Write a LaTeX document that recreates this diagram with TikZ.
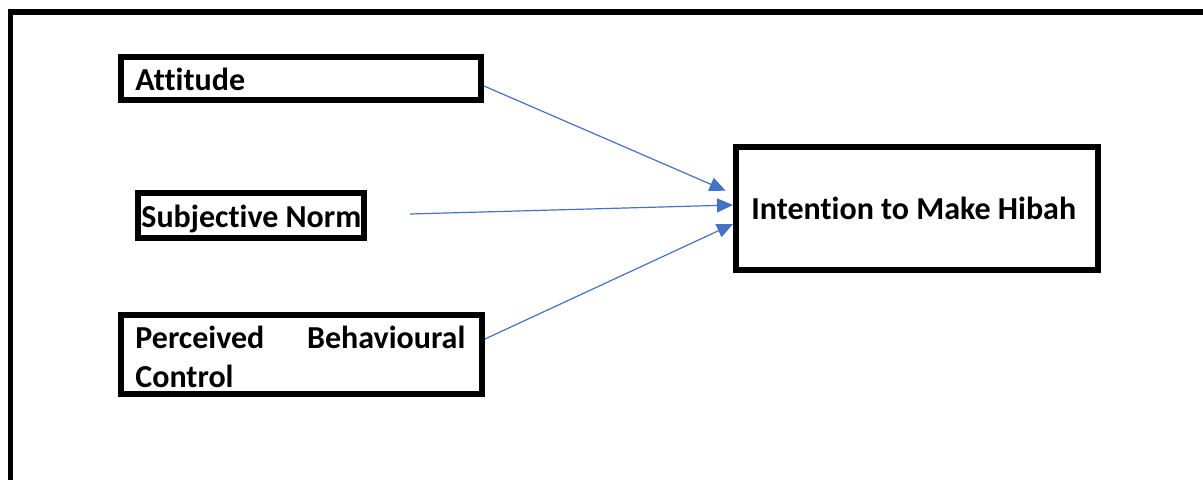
\documentclass[tikz,border=0pt]{standalone}
\usepackage{fontspec}
\setmainfont{Carlito}[Ligatures=NoCommon]
\usetikzlibrary{arrows.meta}
\definecolor{arrowblue}{HTML}{4472C4}
\begin{document}
\begin{tikzpicture}[x=0.5pt,y=-0.5pt,
  box/.style={draw=black,line width=3pt,rectangle,inner sep=0pt,fill=white},
  lbl/.style={inner sep=0pt,anchor=base west,font=\bfseries\fontsize{16}{19.5}\selectfont},
  conn/.style={draw=arrowblue,line width=0.6pt,-{Triangle[length=8pt,width=7pt]}}]
\useasboundingbox (0,0) rectangle (1203,480);
% outer frame (top and left edges)
\draw[line width=2.8pt,line join=miter] (10.5,495) -- (10.5,12) -- (1220,12);
% boxes
\node[box,minimum width=180pt,minimum height=21.5pt] (att) at (301,78.5) {};
\node[box,minimum width=113pt,minimum height=22.5pt] (sn) at (251,215.5) {};
\node[box,minimum width=180.5pt,minimum height=39.5pt] (pbc) at (301.5,354.5) {};
\node[box,minimum width=181pt,minimum height=61.5pt] (int) at (917,208.5) {};
% texts
\node[lbl] (attT) at (135,91) {Attitude};
\node[lbl] (snT) at (141,228) {Subjective Norm};
\node[lbl,text width=165pt,align=left,anchor=north west] (pbcT) at (135,325.5) {Perceived\hfill Behavioural\\Control};
\node[lbl] (intT) at (751,220) {Intention to Make Hibah};
% connectors
\coordinate (snStart) at (410,214);
\draw[conn] ([yshift=-3.75pt]att.east) -- ([xshift=-3.7pt,yshift=8.9pt]int.west);
\draw[conn] (snStart) -- ([yshift=1.75pt]int.west);
\draw[conn] ([yshift=7.75pt]pbc.east) -- ([yshift=-7.75pt]int.west);
\end{tikzpicture}
\end{document}
